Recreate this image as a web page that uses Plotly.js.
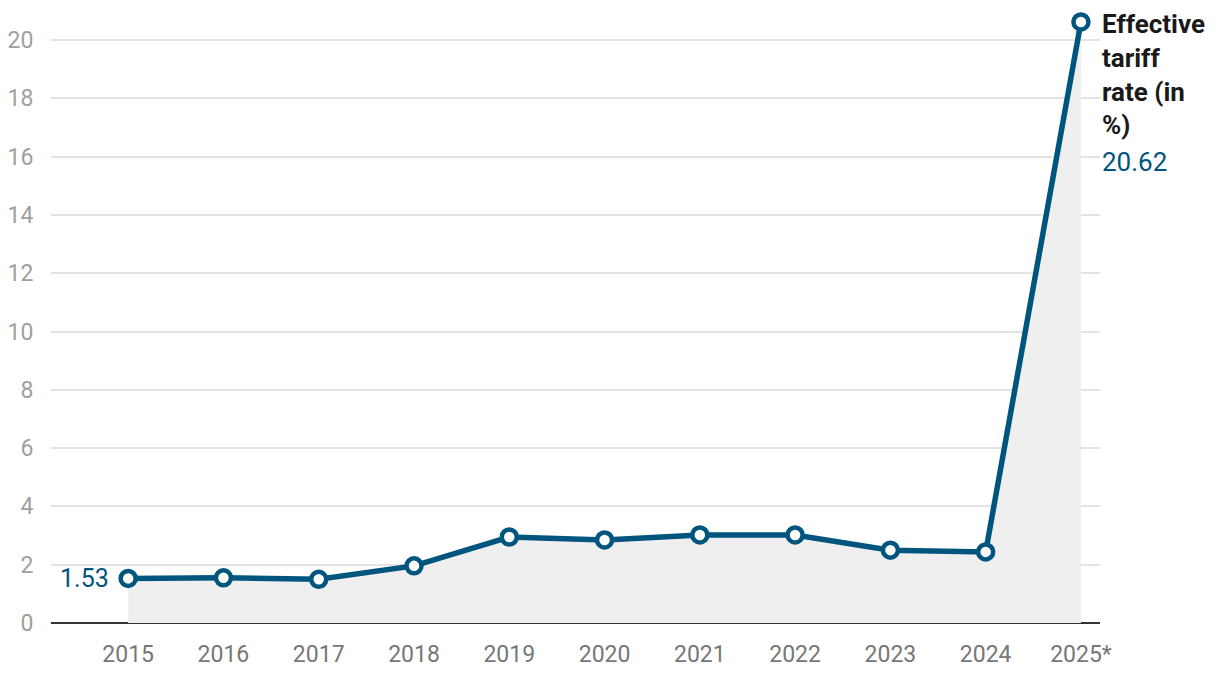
<!DOCTYPE html>
<html>
<head>
<meta charset="utf-8">
<script src="https://cdn.plot.ly/plotly-3.0.1.min.js"></script>
<style>html,body{margin:0;padding:0;background:#fff;}#chart{width:1220px;height:678px;}</style>
</head>
<body>
<div id="chart"></div>
<script>
const years = ["2015","2016","2017","2018","2019","2020","2021","2022","2023","2024","2025*"];
const rates = [1.53, 1.55, 1.50, 1.96, 2.95, 2.85, 3.02, 3.02, 2.50, 2.44, 20.62];
const yTicks = [0,2,4,6,8,10,12,14,16,18,20];
const seriesName = "Effective tariff rate (in %)";

const blue = "#00557f";
const font = "Roboto, 'Open Sans', sans-serif";
const lastIdx = years.length - 1;

const traces = [
  {
    x: years, y: rates, type: "scatter", mode: "none",
    fill: "tozeroy", fillcolor: "#efefef", hoverinfo: "skip", showlegend: false
  },
  {
    x: years, y: rates, type: "scatter", mode: "lines+markers",
    name: seriesName,
    line: {color: blue, width: 5.5},
    marker: {color: "#ffffff", size: 15, line: {color: blue, width: 4.5}},
    showlegend: false, cliponaxis: false
  }
];

const layout = {
  width: 1220, height: 678,
  margin: {l: 51, r: 120, t: 10, b: 55},
  paper_bgcolor: "#ffffff", plot_bgcolor: "#ffffff",
  font: {family: font},
  showlegend: false,
  xaxis: {
    type: "category",
    range: [-0.81, 10.2],
    showgrid: false, zeroline: false, showline: false,
    ticks: "outside", ticklen: 10, tickcolor: "rgba(0,0,0,0)",
    tickfont: {family: font, size: 23, color: "#777777"},
    fixedrange: true
  },
  yaxis: {
    range: [0, 21.03],
    tickvals: yTicks,
    ticktext: yTicks.map(String),
    showgrid: true, gridcolor: "#e3e3e3", gridwidth: 2,
    zeroline: true, zerolinecolor: "#333333", zerolinewidth: 2,
    showline: false,
    ticks: "outside", ticklen: 12, tickcolor: "rgba(0,0,0,0)",
    tickfont: {family: font, size: 23, color: "#a0a0a0"},
    fixedrange: true
  },
  annotations: [
    {
      x: 0, y: rates[0], xref: "x", yref: "y",
      text: rates[0].toFixed(2), showarrow: false,
      xanchor: "right", yanchor: "middle", xshift: -17,
      font: {family: font, size: 25, color: blue}
    },
    {
      x: lastIdx, y: rates[lastIdx], xref: "x", yref: "y",
      text: "<b>Effective<br>tariff<br>rate (in<br>%)</b>", showarrow: false,
      xanchor: "left", yanchor: "top", align: "left", xshift: 19, yshift: 15,
      font: {family: font, size: 26, color: "#1a1a1a"}
    },
    {
      x: lastIdx, y: rates[lastIdx], xref: "x", yref: "y",
      text: rates[lastIdx].toFixed(2), showarrow: false,
      xanchor: "left", yanchor: "top", align: "left", xshift: 19, yshift: -123,
      font: {family: font, size: 26, color: blue}
    }
  ]
};

Plotly.newPlot("chart", traces, layout, {displayModeBar: false, staticPlot: true});
</script>
</body>
</html>
